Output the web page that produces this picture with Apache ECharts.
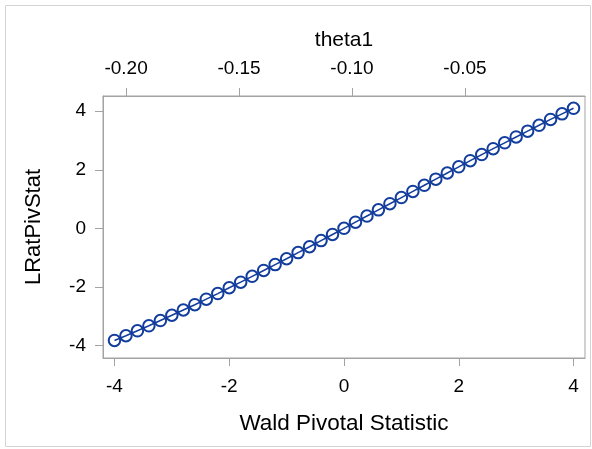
<!DOCTYPE html>
<html>
<head>
<meta charset="utf-8">
<script src="https://cdn.jsdelivr.net/npm/echarts@6/dist/echarts.min.js"></script>
<style>
  html, body { margin: 0; padding: 0; background: #fff; }
  #chart { width: 592px; height: 449px; }
</style>
</head>
<body>
<div id="chart"></div>
<script>
// Wald pivotal statistic (bottom axis) and likelihood-ratio pivotal statistic
const waldStat = [
  -4.0, -3.8, -3.6, -3.4, -3.2, -3.0, -2.8, -2.6, -2.4, -2.2, -2.0,
  -1.8, -1.6, -1.4, -1.2, -1.0, -0.8, -0.6, -0.4, -0.2, 0.0,
  0.2, 0.4, 0.6, 0.8, 1.0, 1.2, 1.4, 1.6, 1.8, 2.0,
  2.2, 2.4, 2.6, 2.8, 3.0, 3.2, 3.4, 3.6, 3.8, 4.0
];
const lratPivStat = [
  -3.83, -3.67, -3.50, -3.33, -3.15, -2.97, -2.79, -2.61, -2.42, -2.23, -2.03,
  -1.84, -1.64, -1.44, -1.24, -1.04, -0.83, -0.63, -0.42, -0.21, 0.00,
  0.21, 0.42, 0.63, 0.84, 1.05, 1.26, 1.47, 1.68, 1.89, 2.10,
  2.31, 2.52, 2.72, 2.92, 3.12, 3.32, 3.52, 3.72, 3.91, 4.10
];
// Bottom / left tick values
const waldTicks = [-4, -2, 0, 2, 4];
const lratTicks = [-4, -2, 0, 2, 4];
// Parameter scale shown on the top axis
const theta1Ticks = [-0.20, -0.15, -0.10, -0.05];
const theta1Range = [-0.2102, 0.0031];

const axisGray = '#a3a3a3';
const markBlue = '#123d9c';
const font = '"Liberation Sans", Arial, sans-serif';

const chart = echarts.init(document.getElementById('chart'), null, { renderer: 'canvas' });

chart.setOption({
  animation: false,
  backgroundColor: '#ffffff',
  graphic: [{
    type: 'rect',
    shape: { x: 5.5, y: 5.5, width: 585, height: 441 },
    style: { fill: 'none', stroke: '#d4d4d4', lineWidth: 1 },
    silent: true
  }],
  grid: {
    left: 103, right: 7, top: 96, bottom: 91,
    show: true, borderColor: axisGray, borderWidth: 1, backgroundColor: 'transparent'
  },
  xAxis: [{
    type: 'value',
    position: 'bottom',
    min: -4.2, max: 4.2,
    name: 'Wald Pivotal Statistic',
    nameLocation: 'middle',
    nameGap: 54,
    nameTextStyle: { fontFamily: font, fontSize: 22.5, color: '#000' },
    axisLine: { show: true, onZero: false, lineStyle: { color: axisGray, width: 1 } },
    axisTick: { show: true, length: 8, customValues: waldTicks, lineStyle: { color: axisGray } },
    axisLabel: { customValues: waldTicks, margin: 19, fontFamily: font, fontSize: 19, color: '#000' },
    splitLine: { show: false }
  }, {
    type: 'value',
    position: 'top',
    min: theta1Range[0], max: theta1Range[1],
    name: 'theta1',
    nameLocation: 'middle',
    nameGap: 45,
    nameTextStyle: { fontFamily: font, fontSize: 21, color: '#000' },
    axisLine: { show: true, onZero: false, lineStyle: { color: axisGray, width: 1 } },
    axisTick: { show: true, length: 8, customValues: theta1Ticks, lineStyle: { color: axisGray } },
    axisLabel: {
      customValues: theta1Ticks, margin: 18, fontFamily: font, fontSize: 19, color: '#000',
      formatter: v => v.toFixed(2)
    },
    splitLine: { show: false }
  }],
  yAxis: {
    type: 'value',
    min: -4.43, max: 4.52,
    name: 'LRatPivStat',
    nameLocation: 'middle',
    nameGap: 58,
    nameTextStyle: { fontFamily: font, fontSize: 22, color: '#000' },
    axisLine: { show: true, onZero: false, lineStyle: { color: axisGray, width: 1 } },
    axisTick: { show: true, length: 8, customValues: lratTicks, lineStyle: { color: axisGray } },
    axisLabel: { customValues: lratTicks, margin: 17, fontFamily: font, fontSize: 19, color: '#000' },
    splitLine: { show: false }
  },
  series: [{
    type: 'line',
    xAxisIndex: 0,
    data: waldStat.map((x, i) => [x, lratPivStat[i]]),
    // hollow markers: the connecting line stays visible through each circle
    symbol: 'circle',
    symbolSize: 11.5,
    showAllSymbol: true,
    lineStyle: { color: markBlue, width: 1.5 },
    itemStyle: { color: 'rgba(0,0,0,0)', borderColor: markBlue, borderWidth: 2 },
    z: 3
  }]
});
</script>
</body>
</html>
